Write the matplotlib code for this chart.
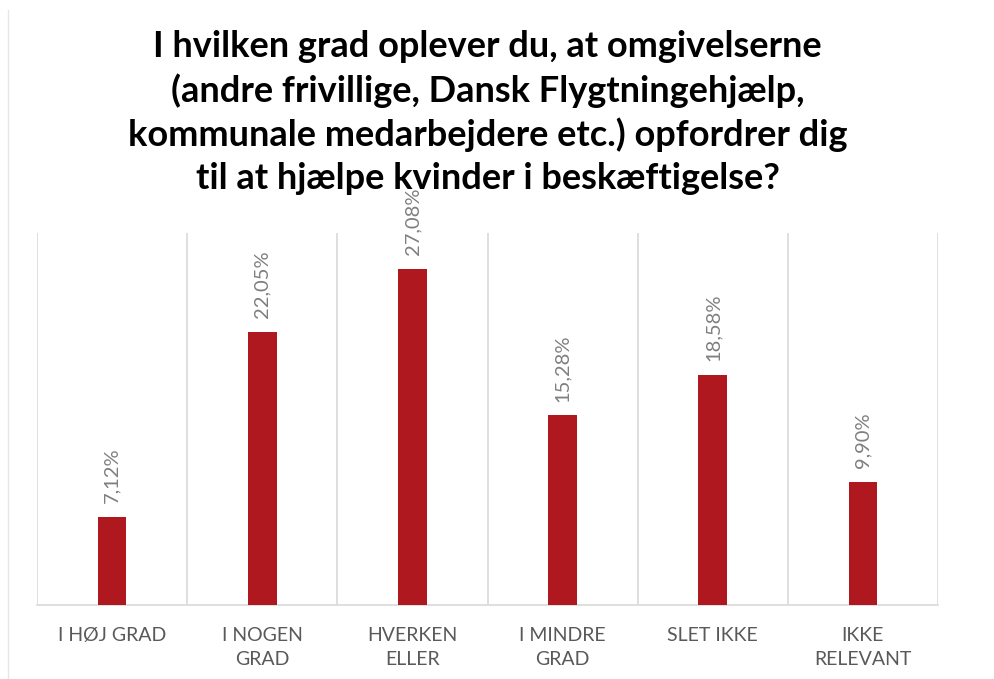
import matplotlib
matplotlib.use("Agg")
from matplotlib import pyplot as plt

categories = ["I HØJ GRAD", "I NOGEN\nGRAD", "HVERKEN\nELLER", "I MINDRE\nGRAD", "SLET IKKE", "IKKE\nRELEVANT"]
values = [7.12, 22.05, 27.08, 15.28, 18.58, 9.90]
title = ("I hvilken grad oplever du, at omgivelserne\n"
         "(andre frivillige, Dansk Flygtningehjælp,\n"
         "kommunale medarbejdere etc.) opfordrer dig\n"
         "til at hjælpe kvinder i beskæftigelse?")

plt.rcParams['font.family'] = ['Lato', 'DejaVu Sans']

fig = plt.figure(figsize=(9.95, 6.79), dpi=100)
ax = fig.add_axes([0.0372, 0.109, 0.9055, 0.548])

x = list(range(len(values)))
ax.bar(x, values, width=0.19, color='#B01820', zorder=3)

for xi, v in zip(x, values):
    ax.annotate(f"{v:.2f}%".replace(".", ","), (xi, v), xytext=(0, 10),
                textcoords='offset points', rotation=90, ha='center', va='bottom',
                fontsize=14.5, color='#7f7f7f')

ax.set_xlim(-0.5, len(values) - 0.5)
ax.set_ylim(0, 30)
ax.set_xticks(x)
ax.set_xticklabels(categories, fontsize=14, color='#595959', linespacing=1.45)
ax.set_xticks([i - 0.5 for i in range(len(values) + 1)], minor=True)
ax.tick_params(axis='x', which='both', length=0, pad=16)
ax.set_yticks([])
ax.grid(True, which='minor', axis='x', color='#d9d9d9', linewidth=1.2, zorder=0)
for s in ['top', 'left', 'right']:
    ax.spines[s].set_visible(False)
ax.spines['bottom'].set_color('#d9d9d9')
ax.spines['bottom'].set_linewidth(1.2)

fig.text(0.490, 0.956, title, ha='center', va='top', fontsize=26, fontweight='bold',
         color='#000000', linespacing=1.35)

fig.add_artist(plt.Line2D([0.008, 0.008], [0.0, 0.985], color='#e6e6e6', linewidth=1))

fig.savefig("out.png", dpi=100)
